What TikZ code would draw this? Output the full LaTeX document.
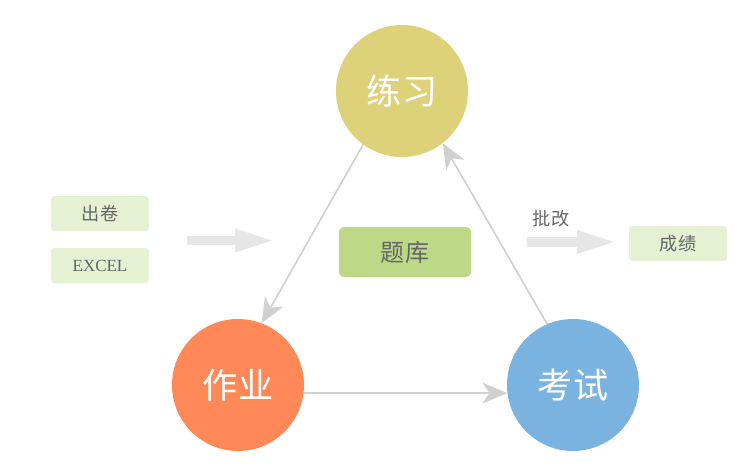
\documentclass[tikz,border=0pt]{standalone}
\usepackage{fontspec}
\newfontfamily\cjk{Noto Sans CJK SC}
\newfontfamily\excelfont{Liberation Serif}
\usetikzlibrary{arrows.meta}
\definecolor{cPractice}{HTML}{DDD17A}
\definecolor{cHomework}{HTML}{FF8858}
\definecolor{cExam}{HTML}{7AB3E0}
\definecolor{cBank}{HTML}{BDD987}
\definecolor{cTag}{HTML}{E6F0D3}
\definecolor{cLine}{HTML}{D0D0D0}
\definecolor{cFat}{HTML}{E6E6E6}
\definecolor{cText}{HTML}{666666}

\begin{document}
\begin{tikzpicture}[
    x=0.03cm, y=-0.03cm,
    font=\cjk,
    circ/.style={circle, inner sep=0pt, minimum size=3.96cm, text=white, font=\cjk\fontsize{30}{33}\selectfont},
    tag/.style={rounded corners=3pt, fill=cTag, minimum width=2.94cm, minimum height=1.05cm, inner sep=0pt, text=cText, font=\cjk\fontsize{15.5}{17}\selectfont},
    bank/.style={rounded corners=4pt, fill=cBank, minimum width=3.96cm, minimum height=1.5cm, inner sep=0pt, text=cText, font=\cjk\fontsize{20.5}{22}\selectfont},
    arr/.style={-{Stealth[length=7.5mm, width=6.3mm, inset=2.2mm]}, line width=1.4pt, cLine},
    fat/.style={-{Triangle[length=12mm, width=6.3mm]}, line width=7.7pt, cFat},
  ]
  \useasboundingbox (0,0) rectangle (735,466);

  % --- the three circles ---
  \node[circ, fill=cPractice] (lianxi) at (402,91) {练习};
  \node[circ, fill=cHomework] (zuoye) at (238,385) {作业};
  \node[circ, fill=cExam] (kaoshi) at (573,385) {考试};

  % --- boxes ---
  \node[bank] (tiku) at (405,252) {题库};
  \node[tag] (chujuan) at (100,213.5) {出卷};
  \node[tag, font=\excelfont\fontsize{14.5}{16}\selectfont] (excel) at (100,265.5) {EXCEL};
  \node[tag] (chengji) at (678,243.5) {成绩};
  \node[text=cText, font=\cjk\fontsize{15.5}{17}\selectfont] (pigai) at (551,219) {批改};

  % --- cycle arrows ---
  \draw[arr] (lianxi.234) -- (zuoye.69);
  \draw[arr] (zuoye.-7) -- (kaoshi.187);
  \draw[arr] (kaoshi.113) -- (lianxi.308);

  % --- fat arrows ---
  \coordinate (inA) at (187,240.5);
  \coordinate (inB) at (275,240.5);
  \coordinate (outA) at (527,242);
  \coordinate (outB) at (617,242);
  \draw[fat] (inA) -- (inB);
  \draw[fat] (outA) -- (outB);
\end{tikzpicture}
\end{document}
